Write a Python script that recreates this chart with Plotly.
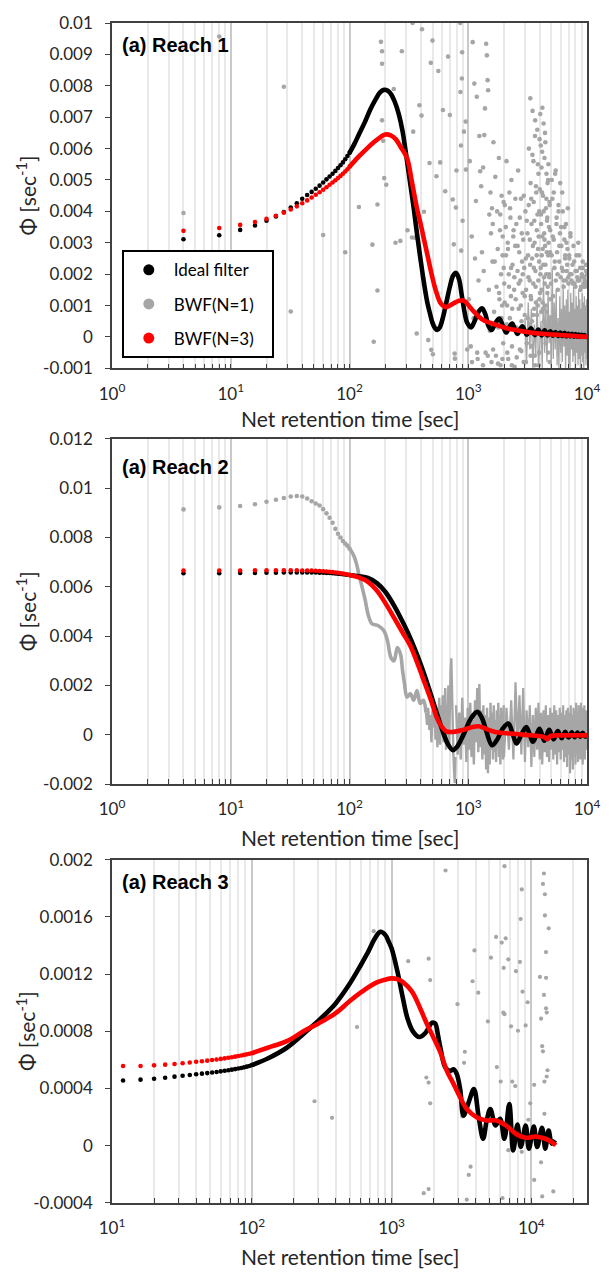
import numpy as np
import plotly.graph_objects as go

# ---------------- sampling times shown as separate dots ----------------
t_dots = list(range(4, 101, 4))        # Reach 1 & 2 (s)
t_dots_r3 = list(range(12, 101, 4))    # Reach 3 (s)

# ======================= Reach 1 (values in 1e-3 s^-1) =======================
r1_ideal_dots = [3.11, 3.24, 3.41, 3.55, 3.70, 3.84, 3.98, 4.12, 4.26, 4.40, 4.52, 4.62, 4.72,
                 4.82, 4.92, 5.02, 5.11, 5.20, 5.29, 5.38, 5.47, 5.56, 5.66, 5.76, 5.86]
r1_bwf3_dots = [3.38, 3.47, 3.57, 3.66, 3.76, 3.86, 3.96, 4.06, 4.16, 4.26, 4.35, 4.44, 4.53,
                4.61, 4.69, 4.77, 4.85, 4.92, 4.99, 5.06, 5.13, 5.20, 5.27, 5.34, 5.42]
r1_ideal_t = [100, 110, 120, 135, 150, 165, 180, 195, 210, 225, 240, 260, 280, 300, 320, 347, 370,
              394, 415, 433, 455, 476, 500, 525, 547, 575, 610, 650, 700, 745, 790, 835, 880, 930,
              980, 1055, 1130, 1220, 1310, 1400, 1480, 1570, 1700, 1825, 1960, 2085, 2210, 2340,
              2470, 2600, 2730, 2855, 2985, 3115, 3240, 3370, 3500, 3630, 3760, 3885, 4015, 4145,
              4400, 4660, 4915, 5175, 5430, 5690, 5945, 6200, 6460, 6715, 6970, 7230, 7485, 7740,
              8000, 8255, 8510, 8770, 9025, 9280, 9540, 9800, 10000]
r1_ideal_v = [5.86, 6.15, 6.45, 6.85, 7.25, 7.55, 7.78, 7.87, 7.84, 7.72, 7.5, 7.1, 6.55, 5.8,
              5.05, 4.12, 3.3, 2.54, 1.95, 1.5, 1.05, 0.75, 0.45, 0.28, 0.22, 0.3, 0.6, 1.05, 1.6,
              1.95, 2.04, 1.85, 1.35, 0.8, 0.45, 0.3, 0.5, 0.8, 0.91, 0.7, 0.35, 0.22, 0.45, 0.59,
              0.35, 0.14, 0.3, 0.43, 0.25, 0.1, 0.24, 0.34, 0.2, 0.07, 0.18, 0.28, 0.16, 0.06,
              0.16, 0.24, 0.14, 0.05, 0.21, 0.05, 0.18, 0.04, 0.16, 0.03, 0.14, 0.03, 0.13, 0.02,
              0.11, 0.02, 0.1, 0.01, 0.09, 0.01, 0.08, 0.0, 0.07, 0.0, 0.06, 0.0, 0.04]
r1_bwf3_t = [100, 120, 140, 160, 180, 200, 220, 245, 270, 305, 335, 369, 400, 430, 460, 490, 520,
             550, 580, 620, 653, 700, 760, 830, 897, 960, 1050, 1153, 1300, 1450, 1585, 1800,
             2100, 2500, 2985, 3500, 4200, 5000, 5623, 6500, 7500, 8500, 10000]
r1_bwf3_v = [5.42, 5.75, 6.0, 6.2, 6.35, 6.45, 6.43, 6.3, 6.05, 5.7, 4.95, 4.12, 3.55, 3.0, 2.5,
             2.02, 1.62, 1.32, 1.1, 0.98, 0.95, 1.0, 1.08, 1.15, 1.17, 1.1, 0.92, 0.75, 0.57,
             0.48, 0.43, 0.36, 0.28, 0.22, 0.17, 0.13, 0.1, 0.08, 0.07, 0.05, 0.04, 0.02, 0.01]

# BWF(N=1), Reach 1: scattered samples
r1_bwf1_t_early = [4, 8, 28, 32, 60, 92, 120, 156, 160, 172, 172, 184, 188, 188, 188, 192, 196,
                   204, 236, 244, 268, 276, 308, 336, 340, 344, 356, 368, 388, 404, 408, 424, 460,
                   472, 484, 488, 500, 504, 540, 560, 580, 612, 640, 676, 700, 740, 756, 768, 772,
                   788, 796, 856, 860, 868, 872, 884, 888, 896, 920, 952, 956, 980]
r1_bwf1_v_early = [3.95, 9.57, 7.97, 0.81, 3.25, 2.70, 4.14, 2.94, -0.15, 1.48, 4.22, 9.4, 9.1,
                   8.7, 6.9, 6.25, 5.06, 4.85, 7.9, 3.0, 3.06, 9.1, 3.4, 3.17, 10.0, 6.54, 3.16,
                   0.11, 7.38, 7.05, 9.8, 3.99, -0.1, 5.54, 8.73, -0.41, 9.44, -0.55, 5.12, 8.47,
                   5.56, 7.23, 4.64, 8.93, 7.07, 4.38, 2.95, -0.53, -0.69, 4.12, 5.3, 10.0, 7.8,
                   6.1, 2.75, 8.23, 9.07, 3.7, 6.54, 6.86, 5.33, -0.4]
r1_bwf1_t_mid = [1010, 1030, 1050, 1070, 1090, 1110, 1125, 1140, 1160, 1180, 1200, 1220, 1240,
                 1260, 1285,
                 1305, 1320, 1335, 1350, 1365, 1383, 1400, 1415, 1435, 1455, 1470, 1490, 1505,
                 1520, 1540, 1555, 1570, 1585, 1598,
                 1610, 1630, 1650, 1670, 1690, 1710, 1730, 1750, 1770, 1790, 1810, 1830, 1850,
                 1870, 1890, 1910, 1930, 1950, 1970, 1990,
                 2010, 2030, 2055, 2080, 2100, 2125, 2150, 2170, 2195, 2220, 2240, 2265, 2290,
                 2310, 2335, 2360, 2385, 2410, 2435, 2460, 2485,
                 2510, 2540, 2570, 2600, 2630, 2660, 2690, 2720, 2750, 2780, 2810, 2840, 2870,
                 2900, 2930, 2960, 2990, 3030, 3070, 3110, 3150, 3190]
r1_bwf1_v_mid = [1.2, 5.6, -0.3, 3.2, 9.39, 0.6, 8.07, 2.5, 4.33, 7.65, -0.7, 1.8, 6.4, 5.28, 4.8,
                 2.7, 0.9, 5.4, 2.1, 6.43, 7.28, -0.5, 9.34, 8.97, 8.18, 7.86, 1.5, 3.9, 0.2, 4.6,
                 3.3, -0.8, 4.1, 2.4,
                 3.6, 6.2, 0.8, 2.4, 5.1, -0.6, 1.6, 4.0, 2.8, 0.3, 5.7, 1.2, 3.4, -0.9, 2.0, 4.5,
                 1.0, 3.2, -0.2, 2.2,
                 1.7, 4.2, 0.2, 2.6, 5.6, 1.0, 3.0, -0.7, 2.0, 4.6, 0.6, 3.8, 1.3, 5.0, -0.3, 2.3,
                 0.4, 3.4, 1.5, -0.95, 2.9,
                 1.2, 3.6, 0.1, 2.1, 5.3, 0.9, 2.7, -0.4, 1.8, 4.4, 0.5, 2.4, 1.4, 3.1, -0.8, 2.2,
                 0.7, 4.0, 1.5, -0.2, 3.3, 2.6]
r1_bwf1_t_late = [3210, 3240, 3270, 3300, 3330, 3360, 3390, 3420, 3450, 3480, 3510, 3540, 3570,
                  3600, 3630, 3660, 3690, 3720, 3750, 3780, 3810, 3840, 3870, 3900, 3930, 3960,
                  3990, 4020, 4050, 4080, 4100, 4120, 4140, 4160, 4180, 4195,
                  4210, 4235, 4260, 4285, 4310, 4335, 4360, 4385, 4410, 4435, 4460, 4485, 4510,
                  4535, 4560, 4585, 4610, 4635, 4660, 4685, 4710, 4735, 4760, 4785, 4810, 4835,
                  4860, 4885, 4910, 4950,
                  5050, 5150, 5250, 5350, 5450, 5550, 5650, 5750, 5850, 5950, 6050, 6150, 6250,
                  6350, 6450, 6550, 6650, 6750, 6850, 6950, 7100, 7250, 7400, 7550, 7700, 7850,
                  8000, 8150, 8300, 8450, 8600, 8750, 8900, 9050, 9200, 9350, 9500, 9650, 9800,
                  9950]
r1_bwf1_v_late = [1.9, 6.0, 0.4, 3.1, 7.6, 1.3, 4.4, -0.3, 2.5, 7.2, 0.7, 5.6, 2.2, 3.7, -0.6,
                  6.9, 1.6, 4.8, 0.1, 3.4, 6.6, 1.0, 2.8, 5.2, -0.9, 4.0, 6.3, 1.4, 2.0, 6.1, 3.9,
                  0.8, 5.4, 2.6, 4.6, 3.2,
                  7.3, 1.1, 4.5, 2.3, 6.8, 0.5, 3.3, 5.7, 1.7, 2.9, 6.2, -0.2, 4.1, 2.0, 5.2, 0.8,
                  3.7, 1.4, 4.9, -0.5, 2.6, 5.5, 0.2, 3.5, 1.9, 4.3, -0.8, 2.7, 1.2, 0.6,
                  5.0, 3.2, 4.6, 2.4, 5.3, 3.8, 2.0, 4.2, 2.9, 4.9, 3.5, 2.2, 4.0, 1.8, 3.1, 2.6,
                  3.6, 2.1, 2.8, 1.9, 2.5, 3.3, 1.8, 2.3, 2.9, 1.7, 2.1, 2.6, 1.9, 3.0, 1.8, 2.2,
                  1.6, 2.0, 2.4, 1.7, 1.9, 1.6, 2.1, 1.7]
r1_bwf1_t_extra = [1820, 1860, 1905, 1945, 1985, 2025, 2070, 2115, 2160, 2205, 2250, 2295, 2345,
                   2395, 2445, 2495, 2550, 2605, 2660, 2715, 2770, 2825, 2880, 2935, 2990, 3050,
                   3110, 3170, 3230, 3290,
                   3320, 3350, 3380, 3410, 3440, 3470, 3500, 3530, 3560, 3590, 3620, 3650, 3680,
                   3710, 3740, 3770, 3800, 3830, 3860, 3890, 3920, 3950, 3980, 4010, 4040, 4070,
                   4110, 4150, 4190, 4230, 4270, 4310, 4350, 4390, 4430, 4470, 4510, 4550, 4590,
                   4630, 4670, 4710, 4750, 4800, 4850,
                   4900, 4970, 5040, 5110, 5180, 5250, 5320, 5390, 5460, 5530, 5600, 5680, 5760,
                   5840, 5920, 6000, 6090, 6180, 6270, 6360, 6450, 6540, 6630, 6720, 6810, 6900,
                   6990, 7080, 7170, 7260,
                   7400, 7600, 7800, 8000, 8200, 8400, 8600, 8800, 9000, 9200, 9400, 9600, 9800,
                   9900, 9980,
                   1075, 1190, 1330, 1460, 1620, 1780, 1940, 2130, 2330, 2560, 2800, 3060, 3350,
                   3650, 3950]
r1_bwf1_v_extra = [1.4, 3.9, 0.6, 2.6, 4.3, 1.1, 3.5, 0.4, 2.8, 1.6, 4.1, 2.2, 0.9, 3.2, 1.9, 4.4,
                   0.3, 2.9, 1.7, 3.8, 1.0, 3.3, 2.0, 4.5, 1.3, 2.5, 3.7, 0.6, 4.2, 1.8,
                   2.3, 4.9, 1.2, 3.6, 0.5, 5.8, 2.9, 1.7, 4.3, 0.9, 3.0, 6.4, 2.1, 1.1, 4.6, 2.6,
                   0.7, 3.9, 5.5, 1.8, 3.2, 2.4, 1.2, 4.7, 7.1, 2.2, 3.6, 1.5, 5.9, 2.8, 0.9, 4.0,
                   1.9, 3.1, 6.5, 2.3, 1.0, 4.4, 2.7, 3.8, 1.6, 5.0, 3.0, 2.0, 4.2,
                   3.4, 1.7, 2.6, 4.4, 1.3, 3.1, 2.2, 5.2, 1.8, 3.6, 2.7, 1.5, 4.0, 2.4, 3.3, 1.9,
                   2.9, 4.6, 2.1, 1.6, 3.5, 2.5, 1.8, 3.0, 2.3, 4.1, 1.7, 2.6, 2.0, 3.2,
                   2.0, 1.7, 2.4, 1.6, 2.1, 1.8, 2.6, 1.5, 1.9, 2.2, 1.6, 1.8, 2.3, 1.7, 2.0,
                   -0.8, -0.5, -0.9, -0.6, -0.4, -0.85, -0.7, -0.5, -0.9, -0.65, -0.45, -0.8,
                   -0.6, -0.9, -0.5]
# dense consecutive samples (drawn joined) at the end of Reach 1
r1_bwf1_dense_t = list(range(3000, 10001, 100))
r1_bwf1_dense_v = [0.6, -0.8, 1.1, -0.4, 0.9, -1.0, 0.4, -0.6, 1.2, -0.9,
                   -0.3, 0.5, -1.0, 1.9, -0.5, 1.0, -0.8, 1.4, -0.2, 0.7, -1.1, 2.2, -0.7, 1.1,
                   -0.4, 1.5, -0.9, 0.6, -1.0, 1.3, -0.5, 0.9, -0.8, 1.7, -0.3, 1.0, -1.1, 1.2,
                   -0.6, 1.5, -0.9, 0.8, -1.0, 1.4, -0.4, 1.1, -0.8, 1.6, -0.6, 0.9, -1.1, 1.3,
                   -0.5, 1.0, -0.9, 1.5, -0.7, 1.2, -1.0, 0.9, -0.6, 1.4, -0.8, 1.1, -1.1, 1.3,
                   -0.5, 1.0, -0.9, 1.2, -0.7]

# ======================= Reach 2 (values in 1e-3 s^-1) =======================
r2_ideal_dots = [6.55, 6.55, 6.56, 6.56, 6.57, 6.57, 6.58, 6.58, 6.58, 6.58, 6.58, 6.58, 6.58,
                 6.57, 6.57, 6.56, 6.56, 6.55, 6.54, 6.53, 6.52, 6.51, 6.5, 6.49, 6.48]
r2_bwf3_dots = [6.66, 6.66, 6.66, 6.67, 6.67, 6.67, 6.67, 6.67, 6.67, 6.66, 6.66, 6.66, 6.65,
                6.64, 6.63, 6.62, 6.61, 6.6, 6.58, 6.57, 6.55, 6.54, 6.52, 6.5, 6.48]
r2_bwf1_dots = [9.14, 9.22, 9.28, 9.35, 9.45, 9.53, 9.6, 9.66, 9.68, 9.66, 9.58, 9.47, 9.38,
                9.3, 9.15, 8.98, 8.8, 8.6, 8.35, 8.15, 8.0, 7.86, 7.75, 7.67, 7.55]
r2_ideal_t = [100, 120, 143, 170, 200, 240, 287, 330, 381, 430, 476, 525, 576, 620, 670, 741, 800,
              870, 950, 1050, 1192, 1300, 1420, 1585, 1750, 1950, 2176, 2350, 2548, 2800, 3080,
              3300, 3500, 3750, 3980, 4180, 4365, 4580, 4800, 5020, 5240, 5460, 5680, 5900, 6120,
              6340, 6560, 6780, 7000, 7220, 7440, 7880, 8320, 8760, 9200, 9640, 10000]
r2_ideal_v = [6.48, 6.43, 6.36, 6.15, 5.8, 5.2, 4.48, 3.85, 3.1, 2.4, 1.75, 1.1, 0.5, 0.05, -0.35,
              -0.62, -0.5, -0.2, 0.2, 0.65, 0.93, 0.7, 0.15, -0.42, -0.2, 0.25, 0.46, 0.1, -0.35,
              0.0, 0.32, 0.0, -0.28, 0.0, 0.25, 0.0, -0.24, 0.0, 0.2, 0.0, -0.18, 0.0, 0.15, 0.0,
              -0.14, 0.0, 0.12, 0.0, -0.11, 0.0, 0.1, -0.1, 0.09, -0.08, 0.08, -0.07, 0.0]
r2_bwf3_t = [100, 120, 143, 170, 200, 237, 280, 326, 380, 433, 490, 540, 594, 653, 750, 900, 1050,
             1230, 1450, 1687, 2317, 3000, 4000, 4400, 4645, 4900, 6000, 10000]
r2_bwf3_v = [6.48, 6.38, 6.2, 5.85, 5.35, 4.75, 4.15, 3.6, 2.8, 2.06, 1.35, 0.73, 0.35, 0.14,
             0.12, 0.2, 0.3, 0.35, 0.22, 0.12, 0.05, 0.0, -0.05, -0.1, -0.18, -0.05, -0.02, -0.02]
r2_bwf1_t = [100, 104, 110, 115, 120, 126, 135, 145, 155, 170, 184, 196, 209, 223, 237, 253, 269,
             280, 290, 305, 326, 347, 370, 394, 420, 440]
r2_bwf1_v = [7.55, 7.44, 7.2, 6.9, 6.5, 6.1, 5.5, 4.8, 4.5, 4.45, 4.35, 4.2, 3.81, 3.14, 3.0,
             3.54, 3.27, 2.6, 2.1, 1.53, 1.67, 1.4, 1.8, 1.27, 1.4, 0.9]
# noisy consecutive samples (drawn joined)
r2_bwf1_n1_t = list(range(440, 781, 10))
r2_bwf1_n1_v = [0.9, 0.4, 1.1, 0.2, 0.8, -0.3, 1.0, 0.3, 1.3, -0.2, 0.9, -0.5, 0.6, 1.5, -0.4,
                1.2, 0.1, 1.6, -0.3, 0.8, 1.9, -0.6, 1.2, 0.3, 2.0, -0.5, 1.6, 2.6, 3.1, 1.4, 0.2,
                -0.8, -1.5, -1.96, -0.9]
r2_bwf1_n2_t = list(range(790, 2000, 25))
r2_bwf1_n2_v = [1.2, -0.8, 0.9, -1.0, 1.5, -0.4, 0.7, -1.1, 1.1, -0.6, 1.3, -0.9, 0.6, -1.2, 1.4,
                -0.3, 1.9, -0.7, 2.06, -0.5, 1.0, -1.0, 1.2, -0.8, 0.8, -1.4, 1.1, -1.56, 0.7,
                -1.2, 1.3, -0.6, 0.9, -1.0, 1.2, -0.7, 0.6, -1.1, 1.0, -0.5, 1.3, -0.9, 0.8, -1.2,
                1.1, -0.6, 0.9, -1.0, 1.2]
r2_bwf1_n3_t = list(range(2000, 10001, 100))
r2_bwf1_n3_v = [-0.9, 1.1, -0.6, 1.4, -1.0, 2.13, -0.4, 1.6, -0.8, 1.9, -1.1, 1.0, -0.5, 1.2,
                -1.3, 0.8, -0.9, 1.1, -0.6, 1.3, -1.0, 0.9, -1.2, 1.0, -0.7, 1.2, -0.9, 0.8, -1.1,
                1.1, -0.6, 0.9, -1.0, 1.2, -0.8, 1.0, -1.2, 0.8, -0.7, 1.1, -1.0, 0.9, -0.6, 1.2,
                -1.1, 0.8, -0.9, 1.0, -1.3, 1.1, -0.8, 0.9, -1.56, 1.2, -1.0, 0.8, -1.4, 1.1,
                -0.9, 1.0, -1.2, 1.3, -0.8, 0.9, -1.1, 1.2, -0.7, 1.0, -1.0, 1.3, -0.9, 0.8, -1.2,
                1.1, -0.8, 1.2, -1.0, 0.9, -0.6, 1.0, -0.5]

# ======================= Reach 3 (values in 1e-4 s^-1) =======================
r3_ideal_dots = [4.56, 4.62, 4.68, 4.75, 4.83, 4.89, 4.95, 5.0, 5.04, 5.08, 5.12, 5.16, 5.2,
                 5.24, 5.28, 5.32, 5.36, 5.40, 5.44, 5.48, 5.53, 5.58, 5.64]
r3_bwf3_dots = [5.58, 5.58, 5.62, 5.67, 5.72, 5.77, 5.82, 5.87, 5.91, 5.95, 5.99, 6.03, 6.07,
                6.11, 6.15, 6.19, 6.23, 6.27, 6.31, 6.35, 6.39, 6.43, 6.47]
r3_ideal_t = [100, 130, 178, 246, 320, 398, 500, 600, 684, 750, 830, 900, 960, 1000, 1100, 1200,
              1300, 1420, 1580, 1750, 1950, 2050, 2150, 2240, 2427, 2630, 2780, 2930, 3100, 3265,
              3550, 3880, 4200, 4517, 4800, 5085, 5543, 5975, 6412, 6950, 7413, 7950, 8395, 9100,
              9600, 10410, 11000, 11920, 12580, 13280, 14000, 14790]
r3_ideal_v = [5.64, 6.1, 6.85, 8.0, 9.0, 9.95, 11.3, 12.6, 13.6, 14.4, 14.95, 14.75, 14.2, 13.8,
              12.2, 10.4, 8.9, 8.0, 7.6, 7.9, 8.6, 8.55, 7.7, 6.8, 5.46, 5.23, 5.35, 5.0, 3.9,
              2.11, 3.0, 3.96, 2.0, 0.49, 1.8, 2.57, 1.42, 1.88, 0.49, 2.92, -0.32, 1.49, -0.08,
              1.42, -0.2, 1.35, -0.08, 1.26, -0.2, 1.07, 0.15, 0.38]
r3_bwf3_t = [100, 130, 178, 234, 300, 398, 500, 600, 700, 800, 894, 1000, 1100, 1200, 1400, 1600,
             1800, 2000, 2240, 2494, 2780, 3097, 3451, 4055, 4764, 5598, 6577, 7740, 9100, 10690,
             12580, 14000, 14930]
r3_bwf3_v = [6.47, 6.85, 7.31, 8.0, 8.55, 9.27, 10.1, 10.7, 11.15, 11.45, 11.6, 11.7, 11.65,
             11.45, 10.77, 9.61, 8.46, 7.54, 6.5, 5.2, 4.31, 3.38, 2.57, 2.0, 1.77, 1.77, 1.42,
             0.84, 0.56, 0.65, 0.49, 0.26, 0.03]
r3_bwf1_t = [281, 375, 566, 745, 1315, 1698, 1841, 1888, 1773, 1841, 1888, 1841, 2432, 2962, 3200,
             3343, 3300, 3565, 3675, 3450, 3795, 3915, 4170, 4885, 5140, 5660, 5590, 6140, 6030,
             6300, 6420, 6420, 6550, 6340, 6840, 6220, 7150, 7300, 6840, 7670, 8020, 7760, 8280,
             8380, 8540, 8540, 8650, 9100, 9400, 9820, 9510, 10470, 10470, 11510, 11730, 11950,
             12100, 11730, 12300, 12100, 12500, 12500, 13300, 12730, 12300, 12730, 12730, 12880,
             13050, 12880, 12400, 12400, 11950, 14350]
r3_bwf1_v = [3.11, 1.95, 8.3, 15.0, 12.9, -3.31, 13.08, 11.58, 4.77, 4.42, 2.97, -3.03, 19.24,
             9.9, 2.05, 6.57, 5.8, -2.04, -1.46, -3.77, 11.5, 13.65, 10.7, 8.69, 13.15, 5.5, 14.6,
             14.2, 4.49, 9.3, 9.2, 19.54, 14.5, 12.43, 13.03, -3.65, 8.35, 4.49, -0.31, 4.17,
             8.04, 12.2, 12.85, 15.85, 17.92, -0.42, 10.77, 8.41, 10.03, 2.97, 1.82, -2.39, 4.26,
             11.8, 8.88, 6.96, 6.6, -1.16, 19.03, 18.3, 17.58, 16.1, 15.2, 13.54, 10.54, 11.74,
             9.61, 9.31, 5.28, 4.84, 4.49, 2.23, -3.54, -3.19]

# axis tick definitions
p1_yticks = [-0.001, 0, 0.001, 0.002, 0.003, 0.004, 0.005, 0.006, 0.007, 0.008, 0.009, 0.01]
p1_ylabels = ['-0.001', '0', '0.001', '0.002', '0.003', '0.004', '0.005', '0.006', '0.007',
              '0.008', '0.009', '0.01']
p2_yticks = [-0.002, 0, 0.002, 0.004, 0.006, 0.008, 0.01, 0.012]
p2_ylabels = ['-0.002', '0', '0.002', '0.004', '0.006', '0.008', '0.01', '0.012']
p3_yticks = [-0.0004, 0, 0.0004, 0.0008, 0.0012, 0.0016, 0.002]
p3_ylabels = ['-0.0004', '0', '0.0004', '0.0008', '0.0012', '0.0016', '0.002']

pairs = [(r1_ideal_t, r1_ideal_v), (r1_bwf3_t, r1_bwf3_v), (r1_bwf1_t_early, r1_bwf1_v_early),
         (r1_bwf1_t_mid, r1_bwf1_v_mid), (r1_bwf1_t_late, r1_bwf1_v_late),
         (r1_bwf1_t_extra, r1_bwf1_v_extra),
         (r1_bwf1_dense_t, r1_bwf1_dense_v), (t_dots, r1_ideal_dots), (t_dots, r1_bwf3_dots),
         (t_dots, r2_ideal_dots), (t_dots, r2_bwf3_dots), (t_dots, r2_bwf1_dots),
         (r2_ideal_t, r2_ideal_v), (r2_bwf3_t, r2_bwf3_v), (r2_bwf1_t, r2_bwf1_v),
         (r2_bwf1_n1_t, r2_bwf1_n1_v), (r2_bwf1_n2_t, r2_bwf1_n2_v), (r2_bwf1_n3_t, r2_bwf1_n3_v),
         (t_dots_r3, r3_ideal_dots), (t_dots_r3, r3_bwf3_dots), (r3_ideal_t, r3_ideal_v),
         (r3_bwf3_t, r3_bwf3_v), (r3_bwf1_t, r3_bwf1_v)]
for i, (a, b) in enumerate(pairs):
    assert len(a) == len(b), (i, len(a), len(b))

# ---------------------------------------------------------------------------
BLACK, GRAY, RED = '#000000', '#A6A6A6', '#FF0000'
AX = '#404040'
TXT = '#262626'
FONT = 'Lato, Open Sans, sans-serif'
MS = 4.6   # dot diameter
LW = 4.6   # width of dense dot runs

W, H = 612, 1273
MT, MB, ML, MR = 14, 70, 112, 15
PH = H - MT - MB


def dom(top_px, bot_px):
    return [1 - (bot_px - MT) / PH, 1 - (top_px - MT) / PH]


def py(px):
    return 1 - (px - MT) / PH


def sc(arr, f):
    return [v * f for v in arr]


fig = go.Figure()


def dots(x, y, color, n, size=MS):
    fig.add_trace(go.Scatter(x=x, y=y, mode='markers', xaxis='x' + n, yaxis='y' + n,
                             marker=dict(color=color, size=size, line=dict(width=0)),
                             showlegend=False, hoverinfo='skip'))


def run(x, y, color, n, width=LW, shape='spline'):
    fig.add_trace(go.Scatter(x=x, y=y, mode='lines', xaxis='x' + n, yaxis='y' + n,
                             line=dict(color=color, width=width, shape=shape, smoothing=1.0),
                             showlegend=False, hoverinfo='skip'))


# ----- Reach 1 -----
e3 = 1e-3
run(r1_bwf1_dense_t, sc(r1_bwf1_dense_v, e3), GRAY, '', width=1.3, shape='linear')
dots(r1_bwf1_t_early + r1_bwf1_t_mid + r1_bwf1_t_late + r1_bwf1_t_extra,
     sc(r1_bwf1_v_early + r1_bwf1_v_mid + r1_bwf1_v_late + r1_bwf1_v_extra, e3), GRAY, '')
dots(t_dots, sc(r1_ideal_dots, e3), BLACK, '')
run(r1_ideal_t, sc(r1_ideal_v, e3), BLACK, '')
dots(t_dots, sc(r1_bwf3_dots, e3), RED, '')
run(r1_bwf3_t, sc(r1_bwf3_v, e3), RED, '')

# ----- Reach 2 -----
dots(t_dots, sc(r2_bwf1_dots, e3), GRAY, '2')
run(r2_bwf1_t, sc(r2_bwf1_v, e3), GRAY, '2', width=3.6)
run(r2_bwf1_n1_t, sc(r2_bwf1_n1_v, e3), GRAY, '2', width=2.4, shape='linear')
run(r2_bwf1_n2_t, sc(r2_bwf1_n2_v, e3), GRAY, '2', width=2.4, shape='linear')
run(r2_bwf1_n3_t, sc(r2_bwf1_n3_v, e3), GRAY, '2', width=2.2, shape='linear')
dots(t_dots, sc(r2_ideal_dots, e3), BLACK, '2')
run(r2_ideal_t, sc(r2_ideal_v, e3), BLACK, '2')
dots(t_dots, sc(r2_bwf3_dots, e3), RED, '2')
run(r2_bwf3_t, sc(r2_bwf3_v, e3), RED, '2')

# ----- Reach 3 -----
e4 = 1e-4
dots(r3_bwf1_t, sc(r3_bwf1_v, e4), GRAY, '3', size=4.2)
dots(t_dots_r3, sc(r3_ideal_dots, e4), BLACK, '3')
run(r3_ideal_t, sc(r3_ideal_v, e4), BLACK, '3')
dots(t_dots_r3, sc(r3_bwf3_dots, e4), RED, '3')
run(r3_bwf3_t, sc(r3_bwf3_v, e4), RED, '3')

# ----- legend entries -----
PAD = '\u00a0' * 3
for name, col, grp in [('Ideal filter', BLACK, 'a'), ('BWF(N=1)', GRAY, 'b'),
                       ('BWF(N=3)', RED, 'c')]:
    fig.add_trace(go.Scatter(x=[None], y=[None], mode='markers', name=name + PAD, legendgroup=grp,
                             marker=dict(color=col, size=11, line=dict(width=0)),
                             xaxis='x', yaxis='y', showlegend=True))


def xaxis(rng, anchor, majors, minors):
    return dict(type='log', range=rng, anchor=anchor, tickmode='array', tickvals=majors,
                ticktext=['10<sup>%d</sup>' % round(np.log10(v)) for v in majors],
                ticks='inside', ticklen=5, tickwidth=1, tickcolor=AX,
                showgrid=True, gridcolor='#c9c9c9', gridwidth=1.5,
                minor=dict(tickmode='array', tickvals=minors, ticks='inside', ticklen=5,
                           tickwidth=1, tickcolor=AX, showgrid=True, gridcolor='#e9e9e9',
                           gridwidth=1.5),
                showline=True, linecolor=AX, linewidth=1.5, mirror=True, zeroline=False,
                tickfont=dict(family=FONT, size=17, color=TXT), ticklabelstandoff=9,
                domain=[0, 1])


def yaxis(rng, anchor, d, vals, labels):
    return dict(range=rng, anchor=anchor, domain=d, tickmode='array', tickvals=vals,
                ticktext=labels, ticks='outside', ticklen=5, tickwidth=1, tickcolor=AX,
                showgrid=False, zeroline=False, showline=True, linecolor=AX, linewidth=1.5,
                mirror=True, tickfont=dict(family=FONT, size=17, color=TXT),
                ticklabelstandoff=9)


minors12 = [m * 10 ** e for e in range(0, 4) for m in range(2, 10)]
minors3 = [m * 10 ** e for e in range(1, 5) for m in range(2, 10) if m * 10 ** e <= 25000]

fig.update_layout(
    width=W, height=H, margin=dict(l=ML, r=MR, t=MT, b=MB),
    paper_bgcolor='white', plot_bgcolor='white',
    xaxis=xaxis([0, 4], 'y', [1, 10, 100, 1000, 10000], minors12),
    xaxis2=xaxis([0, 4], 'y2', [1, 10, 100, 1000, 10000], minors12),
    xaxis3=xaxis([1, np.log10(25000)], 'y3', [10, 100, 1000, 10000], minors3),
    yaxis=yaxis([-0.001, 0.01], 'x', dom(14, 362), p1_yticks, p1_ylabels),
    yaxis2=yaxis([-0.002, 0.012], 'x2', dom(433, 781), p2_yticks, p2_ylabels),
    yaxis3=yaxis([-0.0004, 0.002], 'x3', dom(857, 1203), p3_yticks, p3_ylabels),
    legend=dict(x=(122 - ML) / (W - ML - MR), y=py(243), xanchor='left', yanchor='top',
                bgcolor='white', bordercolor='#000000', borderwidth=2,
                font=dict(family=FONT, size=17, color='#000000'), tracegroupgap=9,
                itemsizing='trace', itemwidth=40),
    showlegend=True,
)

ann = []
for lab, ypx in [('(a) Reach 1', 36), ('(a) Reach 2', 461), ('(a) Reach 3', 880)]:
    ann.append(dict(text='<b>%s</b>' % lab, xref='paper', yref='paper', x=(120 - ML) / (W - ML - MR),
                    y=py(ypx), xanchor='left', yanchor='middle', showarrow=False,
                    font=dict(family='Liberation Sans, Arial, sans-serif', size=20,
                              color='#000000')))
for top, bot, xt in [(14, 362, 413), (433, 781, 835), (857, 1203, 1257)]:
    ann.append(dict(text='Φ [sec<sup>-1</sup>]', xref='paper', yref='paper',
                    x=(24 - ML) / (W - ML - MR), y=py((top + bot) / 2), xanchor='center',
                    yanchor='middle', textangle=-90, showarrow=False,
                    font=dict(family=FONT, size=21, color=TXT)))
    ann.append(dict(text='Net retention time [sec]', xref='paper', yref='paper', x=0.5,
                    y=py(xt), xanchor='center', yanchor='middle', showarrow=False,
                    font=dict(family=FONT, size=21, color=TXT)))
fig.update_layout(annotations=ann)

fig.write_html('out.html')
